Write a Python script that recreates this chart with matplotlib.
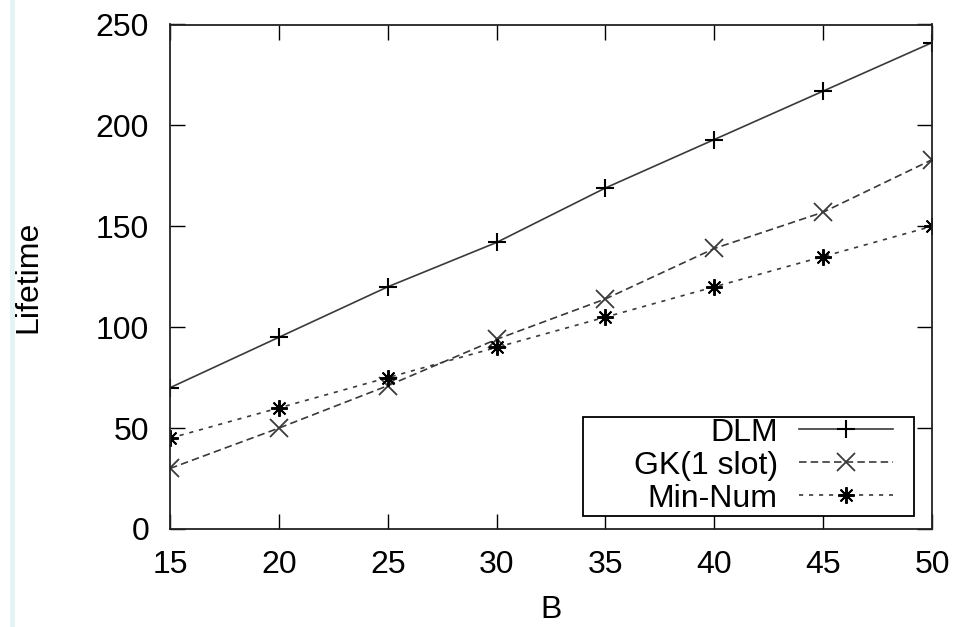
import matplotlib
matplotlib.use("Agg")
import matplotlib.pyplot as plt
from matplotlib.patches import Rectangle

# Lifetime versus buffer size B for three schemes
B = [15, 20, 25, 30, 35, 40, 45, 50]
dlm = [70, 95, 120, 142, 169, 193, 217, 241]
gk_1slot = [30, 50, 71, 94, 114, 139, 157, 183]
min_num = [45, 60, 75, 90, 105, 120, 135, 150]

x_ticks = [15, 20, 25, 30, 35, 40, 45, 50]
y_ticks = [0, 50, 100, 150, 200, 250]

plt.rcParams['font.family'] = ['Liberation Sans', 'DejaVu Sans']

FS = 23

fig = plt.figure(figsize=(9.75, 6.27), dpi=100)
fig.patch.set_facecolor('white')
# thin light strip along the left edge
fig.patches.append(Rectangle((10 / 975, 0), 5 / 975, 1, transform=fig.transFigure,
                             facecolor='#e4f3f3', edgecolor='none', zorder=0))

ax = fig.add_axes([170 / 975, 98 / 627, 762 / 975, 504.5 / 627])

line_color = '#3a3a3a'
ax.plot(B, dlm, color=line_color, lw=1.2, ls='-', marker='+', ms=13, mew=1.5,
        mec='black', label='DLM')
ax.plot(B, gk_1slot, color=line_color, lw=1.2, ls=(0, (4.5, 2.5)), marker='x', ms=13,
        mew=1.3, mec='#3a3a3a', label='GK(1 slot)')
ax.plot(B, min_num, color=line_color, lw=1.2, ls=(0, (2.5, 3.5)), marker=(8, 2, 0),
        ms=12, mew=1.4, mec='black', label='Min-Num')

ax.set_xlim(15, 50)
ax.set_ylim(0, 250)
ax.set_xticks(x_ticks)
ax.set_yticks(y_ticks)
ax.tick_params(direction='in', length=11, width=1.0, top=True, right=True,
               labelsize=FS, pad=15, color='black')
for s in ax.spines.values():
    s.set_linewidth(1.3)
    s.set_color('#222222')

ax.set_xlabel('B', fontsize=FS, labelpad=11)
ax.set_ylabel('Lifetime', fontsize=FS, labelpad=38)

leg = ax.legend(loc='center right', bbox_to_anchor=(0.9488, 0.1249), borderaxespad=0,
                markerfirst=False, handlelength=2.95, handletextpad=0.66,
                labelspacing=0.1, borderpad=0.0, frameon=False, fontsize=FS)
# right-align the labels within the legend
for vp in leg._legend_handle_box.get_children():
    for child in vp.get_children():
        child.align = 'right'
leg._legend_handle_box.align = 'right'

# legend frame box
ax.add_patch(Rectangle((0.542, 0.0258), 0.4344, 0.1962, transform=ax.transAxes,
                       facecolor='white', edgecolor='black', lw=1.3, zorder=4))
leg.set_zorder(5)

fig.savefig('out.png', dpi=100, facecolor='white')
